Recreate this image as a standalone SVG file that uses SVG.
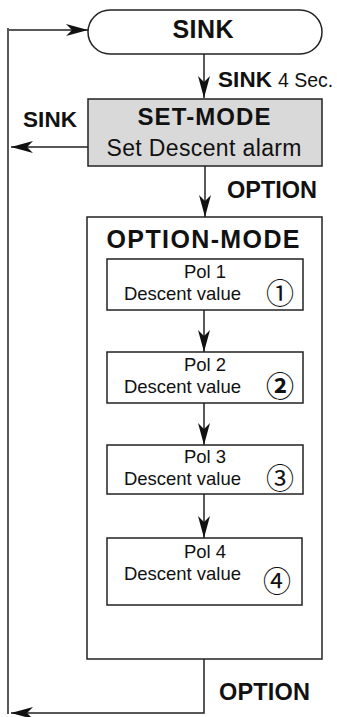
<svg xmlns="http://www.w3.org/2000/svg" width="337" height="717" viewBox="0 0 337 717">
<defs>
<marker id="ah" markerUnits="userSpaceOnUse" markerWidth="24" markerHeight="14" refX="22" refY="6" orient="auto">
<path d="M0,0 L22,6 L0,12 L6,6 Z" fill="#111"/>
</marker>
<style>
.box{fill:#fff;stroke:#222;stroke-width:1.5}
.gray{fill:#d9d9d9;stroke:#222;stroke-width:1.5}
.ln{fill:none;stroke:#222;stroke-width:1.5}
.arr{fill:none;stroke:#222;stroke-width:1.5;marker-end:url(#ah)}
.b{font-family:"Liberation Sans",Arial,sans-serif;font-weight:bold;font-size:23.5px;fill:#111}
.r{font-family:"Liberation Sans",Arial,sans-serif;font-size:18.5px;fill:#111}
.c{font-family:"Noto Sans CJK JP","DejaVu Sans",sans-serif;font-size:28px;fill:#111}
</style>
</defs>
<rect width="337" height="717" fill="#fff"/>
<g id="sink">
<rect class="box" x="88" y="10" width="234" height="44" rx="22" ry="22"/>
<text class="b" x="203" y="38" text-anchor="middle" style="font-size:25px" textLength="61">SINK</text>
</g>
<g id="set-mode">
<rect class="gray" x="88" y="99" width="234" height="67"/>
<text class="b" x="204" y="125" text-anchor="middle" style="font-size:24px" textLength="133">SET-MODE</text>
<text class="r" x="204" y="156" text-anchor="middle" style="font-size:23px" textLength="195">Set Descent alarm</text>
</g>
<g id="option-mode">
<rect class="box" x="87" y="217" width="235" height="442"/>
<text class="b" x="203" y="248" text-anchor="middle" style="font-size:25px" textLength="193">OPTION-MODE</text>
</g>
<g id="pol1">
<rect class="box" x="107" y="259" width="196" height="51"/>
<text class="r" x="205" y="278" text-anchor="middle">Pol 1</text>
<text class="r" x="124" y="300" textLength="117">Descent value</text>
<text class="c" x="280" y="304" text-anchor="middle">①</text>
</g>
<g id="pol2">
<rect class="box" x="107" y="352" width="196" height="51"/>
<text class="r" x="205" y="371" text-anchor="middle">Pol 2</text>
<text class="r" x="124" y="393" textLength="117">Descent value</text>
<text class="c" x="280" y="397" text-anchor="middle" style="font-weight:bold">②</text>
</g>
<g id="pol3">
<rect class="box" x="107" y="445" width="196" height="49"/>
<text class="r" x="205" y="463" text-anchor="middle">Pol 3</text>
<text class="r" x="124" y="485" textLength="117">Descent value</text>
<text class="c" x="280" y="489" text-anchor="middle">③</text>
</g>
<g id="pol4">
<rect class="box" x="107" y="538" width="195" height="67"/>
<text class="r" x="205" y="558" text-anchor="middle">Pol 4</text>
<text class="r" x="124" y="580" textLength="117">Descent value</text>
<text class="c" x="277" y="592" text-anchor="middle">④</text>
</g>
<g id="connectors">
<line class="ln" x1="8" y1="28" x2="8" y2="714"/>
<line class="arr" x1="9" y1="30" x2="88" y2="30"/>
<line class="arr" x1="204" y1="54" x2="204" y2="98"/>
<line class="arr" x1="88" y1="147" x2="11" y2="147"/>
<line class="arr" x1="205" y1="166" x2="205" y2="217"/>
<line class="arr" x1="204" y1="310" x2="204" y2="352"/>
<line class="arr" x1="204" y1="403" x2="204" y2="445"/>
<line class="arr" x1="204" y1="494" x2="204" y2="538"/>
<polyline class="arr" points="204,659 204,713 11,713"/>
<text class="b" x="218" y="87" style="font-size:22.5px" textLength="54">SINK</text>
<text class="r" x="278" y="87" style="font-size:19.5px">4 Sec.</text>
<text class="b" x="23" y="127" style="font-size:22.5px" textLength="54">SINK</text>
<text class="b" x="227" y="198" textLength="90">OPTION</text>
<text class="b" x="219" y="700" textLength="91">OPTION</text>
</g>
</svg>
